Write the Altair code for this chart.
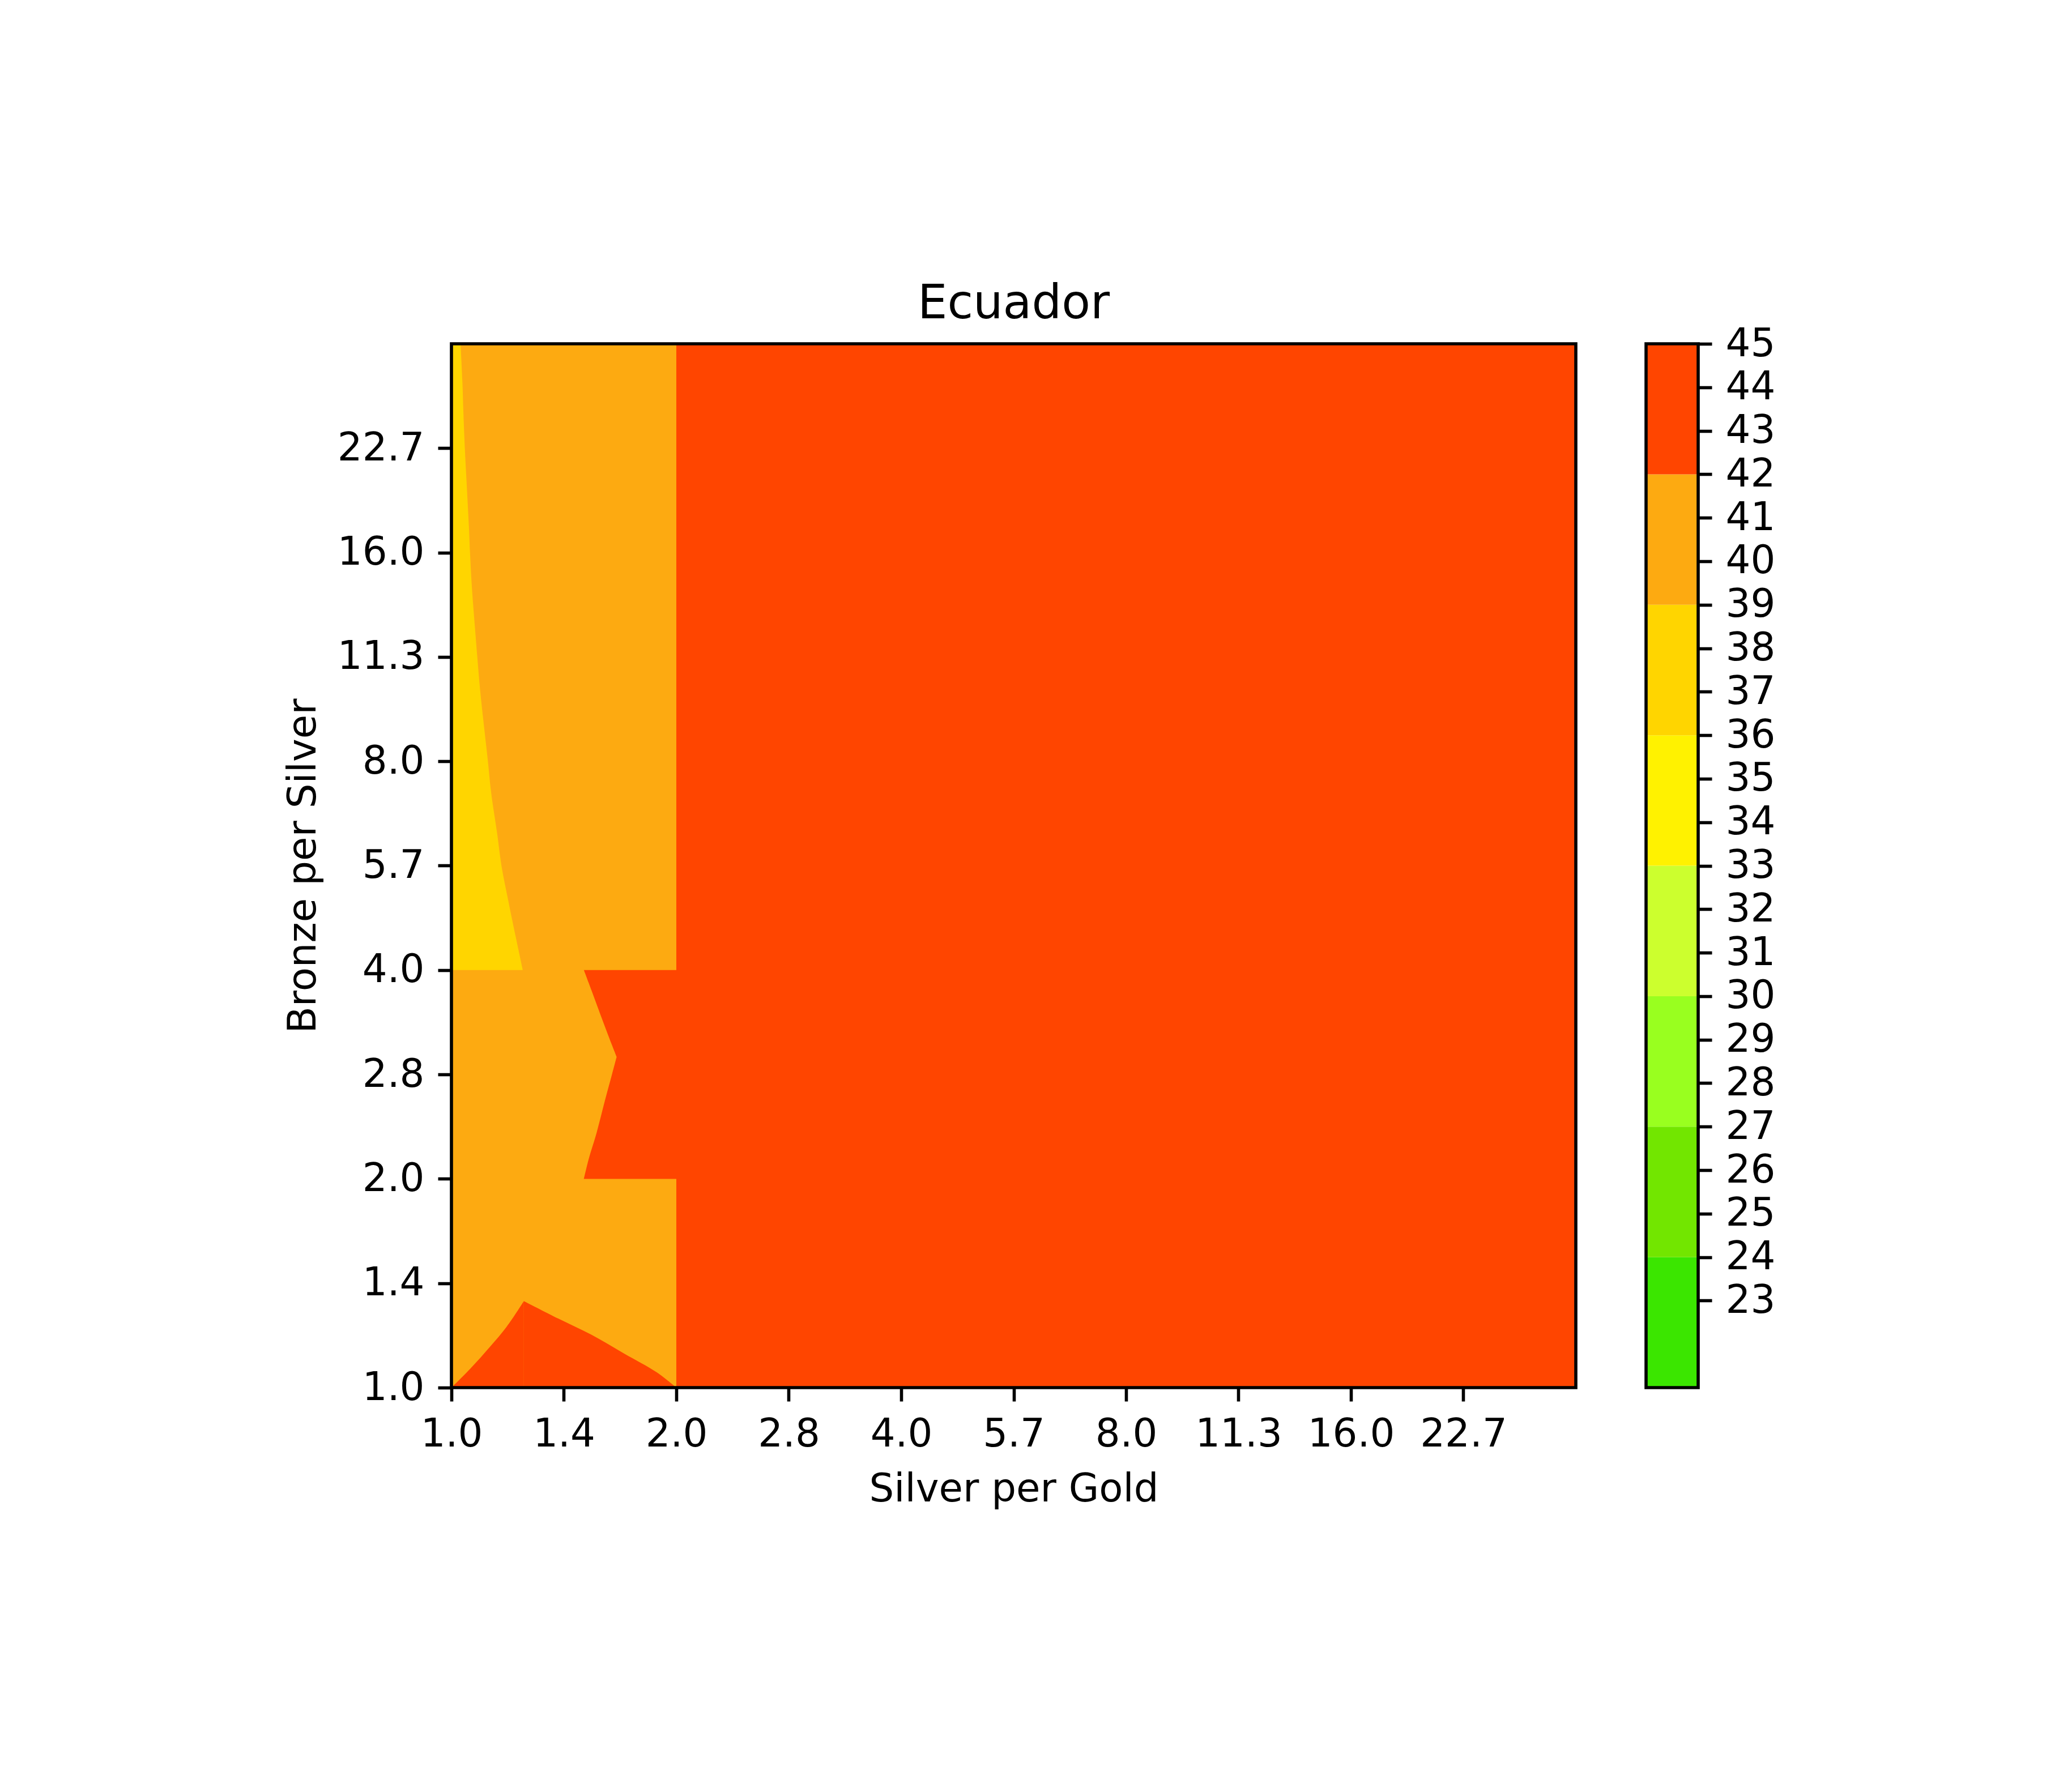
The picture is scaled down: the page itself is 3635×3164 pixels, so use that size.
import altair as alt
import pandas as pd

# ---------------- data ----------------
TITLE = "Ecuador"
X_TITLE = "Silver per Gold"
Y_TITLE = "Bronze per Silver"
AXIS_MIN = 1.0
AXIS_MAX = 32.0

TICK_VALUES = [1.0, 1.4142, 2.0, 2.8284, 4.0, 5.6569, 8.0, 11.3137, 16.0, 22.6274]
TICK_LABELS = ["1.0", "1.4", "2.0", "2.8", "4.0", "5.7", "8.0", "11.3", "16.0", "22.7"]

# contour levels and colours (band i spans LEVELS[i]..LEVELS[i+1])
LEVELS = [21, 24, 27, 30, 33, 36, 39, 42, 45]
LEVEL_COLORS = ["#3be600", "#72e600", "#99ff1f", "#ccff2e",
                "#fff200", "#ffd500", "#fdaa11", "#ff4500"]
CBAR_TICKS = [23, 24, 25, 26, 27, 28, 29, 30, 31, 32, 33, 34,
              35, 36, 37, 38, 39, 40, 41, 42, 43, 44, 45]

# rectangular filled regions (level = lower bound of band)
RECT_X0 = [1.0, 1.0]
RECT_X1 = [32.0, 2.0]
RECT_Y0 = [1.0, 1.0]
RECT_Y1 = [32.0, 32.0]
RECT_LEVEL = [42, 39]

# red region at the bottom-left (upper boundary, over x), two edges meeting at the apex
TRI_X = [1.0, 1.060, 1.126, 1.184, 1.227, 1.250, 1.250, 1.391, 1.539, 1.702, 1.883, 2.0]
TRI_Y = [1.0, 1.065, 1.145, 1.222, 1.292, 1.333, 1.333, 1.257, 1.192, 1.120, 1.052, 1.0]
TRI_PART = [0, 0, 0, 0, 0, 0, 1, 1, 1, 1, 1, 1]
TRI_LEVEL = 42

# red notch between y = 2 and y = 4 (left boundary, over y), two edges meeting at the tip
NOTCH_Y = [2.0, 2.138, 2.329, 2.594, 2.827, 2.999, 2.999, 3.217, 3.468, 3.739, 4.0]
NOTCH_X = [1.504, 1.527, 1.564, 1.605, 1.640, 1.664, 1.664, 1.622, 1.580, 1.540, 1.504]
NOTCH_PART = [0, 0, 0, 0, 0, 0, 1, 1, 1, 1, 1]
NOTCH_RIGHT = 2.0
NOTCH_LEVEL = 42

# gold region at the upper-left (right boundary, over y)
GOLD_Y = [4.0, 4.469, 5.125, 5.657, 6.287, 7.21, 8.0, 8.845, 10.13, 11.31,
          12.42, 14.24, 16.0, 17.47, 20.01, 22.63, 25.58, 28.31, 32.0]
GOLD_X = [1.2459, 1.219, 1.1875, 1.1667, 1.1515, 1.1302, 1.119, 1.1074, 1.0925,
          1.083, 1.0755, 1.0651, 1.0589, 1.0552, 1.0483, 1.0421, 1.0374, 1.0342, 1.0285]
GOLD_LEVEL = 36

# ---------------- tables ----------------
rect_df = pd.DataFrame({"x": RECT_X0, "x2": RECT_X1, "y": RECT_Y0, "y2": RECT_Y1,
                        "level": RECT_LEVEL})
tri_df = pd.DataFrame({"x": TRI_X, "y": TRI_Y, "part": TRI_PART,
                       "level": [TRI_LEVEL] * len(TRI_X)})
notch_df = pd.DataFrame({"y": NOTCH_Y, "x": NOTCH_X, "part": NOTCH_PART,
                         "level": [NOTCH_LEVEL] * len(NOTCH_Y)})
gold_df = pd.DataFrame({"y": GOLD_Y, "x": GOLD_X, "level": [GOLD_LEVEL] * len(GOLD_Y)})
frame_df = pd.DataFrame({"x": [AXIS_MIN], "x2": [AXIS_MAX], "y": [AXIS_MIN], "y2": [AXIS_MAX]})
cbar_df = pd.DataFrame({"lo": LEVELS[:-1], "hi": LEVELS[1:], "level": LEVELS[:-1]})
cbar_frame_df = pd.DataFrame({"lo": [LEVELS[0]], "hi": [LEVELS[-1]]})

# ---------------- styling ----------------
FONT = "DejaVu Sans"
FS = 69
LW = 5.6
TICK = 24
W, H = 1985, 1843
CBAR_X0, CBAR_X1 = 2109, 2201

label_expr = "".join(
    f"abs(datum.value - {v}) < 0.001 ? '{lab}' : " for v, lab in zip(TICK_VALUES, TICK_LABELS)
) + "''"

xscale = alt.Scale(type="log", base=2, domain=[AXIS_MIN, AXIS_MAX], nice=False, zero=False)
yscale = alt.Scale(type="log", base=2, domain=[AXIS_MIN, AXIS_MAX], nice=False, zero=False)

common_axis = dict(values=TICK_VALUES, labelExpr=label_expr, tickSize=TICK, tickWidth=LW,
                   tickColor="black", domain=False, grid=False, labelFontSize=FS,
                   labelFont=FONT, labelColor="black", labelPadding=24, labelFlush=False,
                   labelOverlap=False, titleFontSize=FS, titleFont=FONT,
                   titleFontWeight="normal", titleColor="black")
xaxis = alt.Axis(title=X_TITLE, titlePadding=28, **common_axis)
yaxis = alt.Axis(title=Y_TITLE, titlePadding=27, **common_axis)

color = alt.Color("level:O", scale=alt.Scale(domain=LEVELS[:-1], range=LEVEL_COLORS), legend=None)

def X(field="x"):
    return alt.X(f"{field}:Q", scale=xscale, axis=xaxis, stack=None)

def Y(field="y"):
    return alt.Y(f"{field}:Q", scale=yscale, axis=yaxis, stack=None)

rects = alt.Chart(rect_df).mark_rect(strokeWidth=0).encode(
    x=X(), x2="x2:Q", y=Y(), y2="y2:Q", color=color)

tri = alt.Chart(tri_df).mark_area(orient="vertical", strokeWidth=0,
                                  interpolate="catmull-rom").encode(
    x=X(), y=Y(), y2=alt.datum(AXIS_MIN), color=color, detail="part:N")

notch = alt.Chart(notch_df).mark_area(orient="horizontal", strokeWidth=0,
                                      interpolate="catmull-rom").encode(
    y=Y(), x=X(), x2=alt.datum(NOTCH_RIGHT), color=color, detail="part:N")

gold = alt.Chart(gold_df).mark_area(orient="horizontal", strokeWidth=0,
                                    interpolate="catmull-rom").encode(
    y=Y(), x=X(), x2=alt.datum(AXIS_MIN), color=color)

frame = alt.Chart(frame_df).mark_rect(fillOpacity=0, stroke="black", strokeWidth=LW).encode(
    x=X(), x2="x2:Q", y=Y(), y2="y2:Q")

main = alt.layer(rects, tri, notch, gold, frame)

cscale = alt.Scale(domain=[LEVELS[0], LEVELS[-1]], nice=False, zero=False)
caxis = alt.Axis(orient="right", offset=CBAR_X1 - W, values=CBAR_TICKS, format="d",
                 tickSize=TICK, tickWidth=LW, tickColor="black", domain=False, grid=False,
                 labelFontSize=FS, labelFont=FONT, labelColor="black", labelPadding=24,
                 labelFlush=False, labelOverlap=False, title=None)

cbar = alt.Chart(cbar_df).mark_rect(strokeWidth=0).encode(
    x=alt.value(CBAR_X0), x2=alt.value(CBAR_X1),
    y=alt.Y("lo:Q", scale=cscale, axis=caxis), y2="hi:Q", color=color)

cbar_frame = alt.Chart(cbar_frame_df).mark_rect(fillOpacity=0, stroke="black", strokeWidth=LW).encode(
    x=alt.value(CBAR_X0), x2=alt.value(CBAR_X1),
    y=alt.Y("lo:Q", scale=cscale, axis=caxis), y2="hi:Q")

cbar_layer = alt.layer(cbar, cbar_frame)

chart = alt.layer(main, cbar_layer).resolve_scale(y="independent").properties(
    width=W, height=H,
    title=alt.Title(TITLE, fontSize=83, font=FONT, fontWeight="normal", color="black",
                    anchor="middle", frame="group", baseline="alphabetic", offset=-72),
    autosize=alt.AutoSizeParams(type="none"),
    padding={"left": 789, "top": 599, "right": 845, "bottom": 706},
).configure(font=FONT).configure_view(stroke=None)

chart.save("out.html", embed_options={"renderer": "svg", "actions": False})
